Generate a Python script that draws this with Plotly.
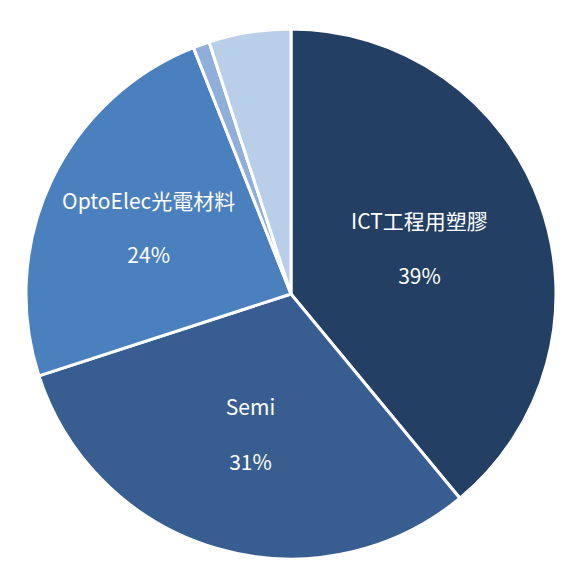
import plotly.graph_objects as go

labels = ["ICT工程用塑膠", "Semi", "OptoElec光電材料", "Other1", "Other2"]
values = [39, 31, 24, 1, 5]
sp = "<br><span style='font-size:18px'> </span><br>"
texts = ["ICT工程用塑膠" + sp + "39%", "Semi" + sp + "31%", "OptoElec光電材料" + sp + "24%", "", ""]
colors = ["#243F64", "#375D91", "#4B80BF", "#8FAEDA", "#B9CEE8"]

fig = go.Figure(go.Pie(
    labels=labels, values=values, text=texts, textinfo="text",
    sort=False, direction="clockwise", rotation=0,
    marker=dict(colors=colors, line=dict(color="white", width=3)),
    textfont=dict(color="white", size=21, family="Noto Sans CJK TC"),
    insidetextorientation="horizontal", textposition="inside",
    hoverinfo="none",
))
fig.update_layout(width=580, height=584, showlegend=False,
                  margin=dict(l=18, r=32, t=20, b=32),
                  paper_bgcolor="white", uniformtext=dict(minsize=21, mode="show"))
fig.write_html("out.html")
